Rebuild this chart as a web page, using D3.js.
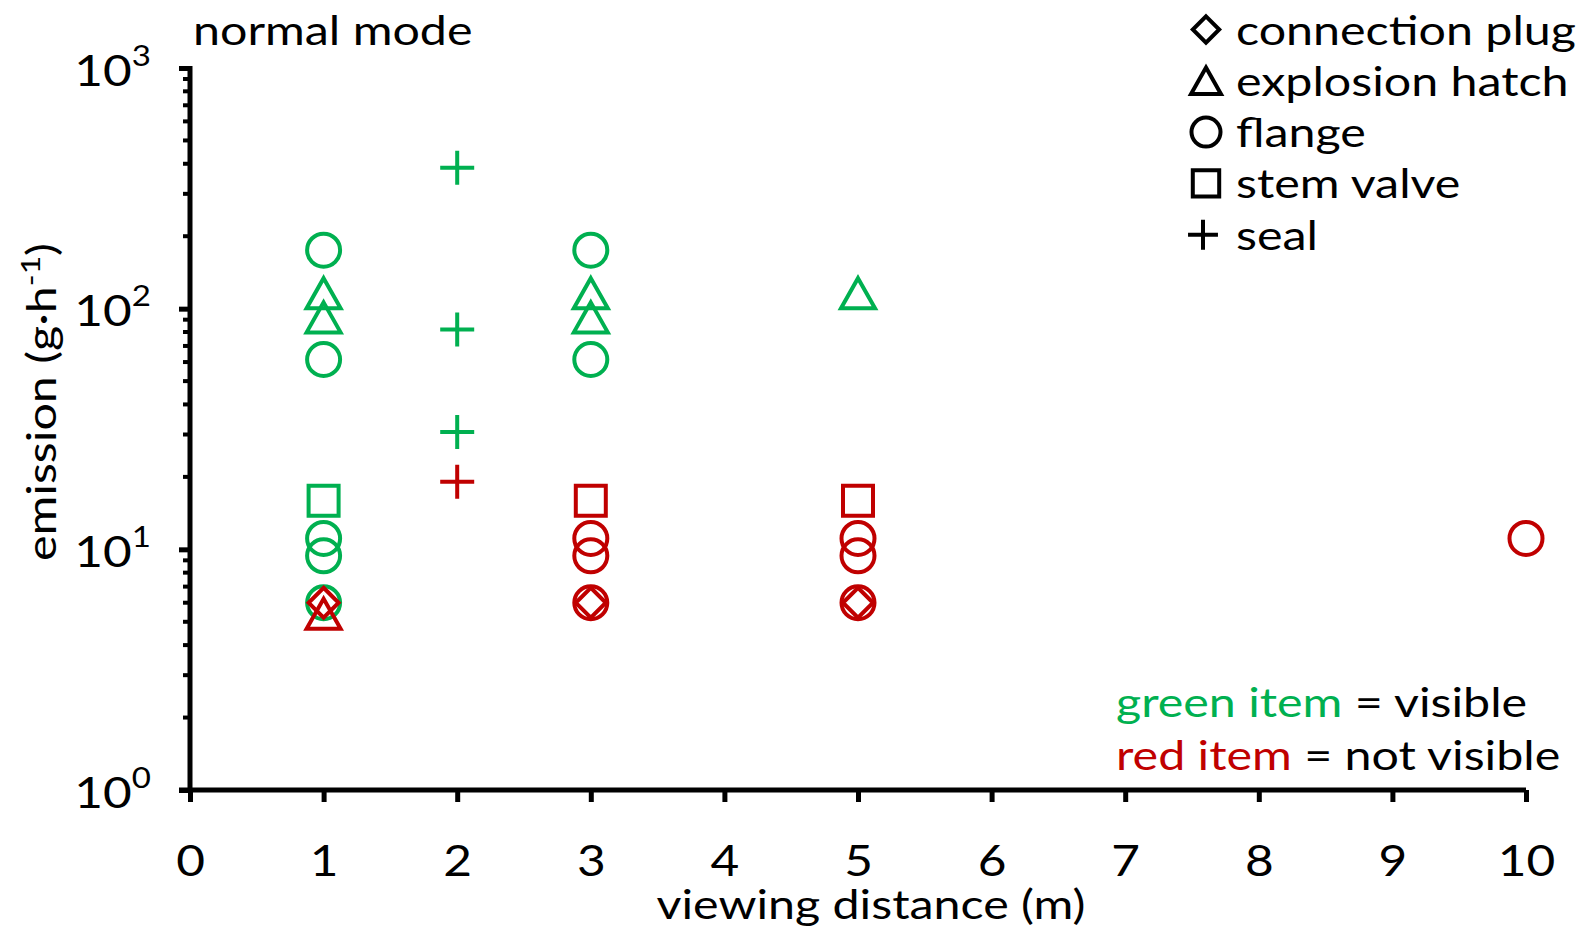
<!DOCTYPE html>
<html lang="en">
<head>
    <meta charset="UTF-8">
    <title>Emission vs viewing distance (normal mode)</title>
    <script src="https://d3js.org/d3.v7.min.js"></script>
    <style>
        body { margin: 0; background: #fff; }
        svg text { font-family: Lato, "Open Sans", sans-serif; fill: #000; }
        .axis path, .axis line { stroke: #000; }
    </style>
</head>
<body>
    <svg id="chart" width="1583" height="932"></svg>

    <script>
        // Data: [viewing distance (m), emission (g/h)]
        const legendLabels = ["connection plug", "explosion hatch", "flange", "stem valve", "seal"];
        const xTicks = [0, 1, 2, 3, 4, 5, 6, 7, 8, 9, 10];
        const yDecades = [1, 10, 100, 1000];

        const plugVisible = [];
        const plugHidden = [[1, 6.0], [3, 6.0], [5, 6.0]];
        const hatchVisible = [[1, 116], [1, 92], [3, 116], [3, 92], [5, 116]];
        const hatchHidden = [[1, 5.4]];
        const flangeVisible = [[1, 175], [1, 61.5], [1, 11.1], [1, 9.4], [1, 6.0], [3, 175], [3, 61.5]];
        const flangeHidden = [[3, 11.1], [3, 9.4], [3, 6.0], [5, 11.1], [5, 9.4], [5, 6.0], [10, 11.1]];
        const valveVisible = [[1, 15.9]];
        const valveHidden = [[3, 15.9], [5, 15.9]];
        const sealVisible = [[2, 385], [2, 82], [2, 30.7]];
        const sealHidden = [[2, 19.1]];

        const green = "#00b050", red = "#c00000";
        const SX = 1.18; // horizontal stretch of the original text

        const svg = d3.select("#chart");
        const x = d3.scaleLinear().domain([0, 10]).range([190, 1526]);
        const y = d3.scaleLog().domain([1, 1000]).range([790, 68]);

        // marker shapes centred on their bounding box
        function shape(kind, k) {
            k = k || 1;
            const p = d3.path();
            if (kind === "diamond") {
                const h = 15 * k;
                p.moveTo(0, -h); p.lineTo(h, 0); p.lineTo(0, h); p.lineTo(-h, 0); p.closePath();
            } else if (kind === "triangle") {
                const w = 17 * k, h = 15 * k;
                p.moveTo(0, -h); p.lineTo(w, h); p.lineTo(-w, h); p.closePath();
            } else if (kind === "circle") {
                p.arc(0, 0, 16.5 * k, 0, 2 * Math.PI);
            } else if (kind === "square") {
                const s = 15 * k;
                p.rect(-s, -s, 2 * s, 2 * s);
            } else {
                const a = 17 * k;
                p.moveTo(-a, 0); p.lineTo(a, 0); p.moveTo(0, -a); p.lineTo(0, a);
            }
            return p.toString();
        }

        // axes
        const xAxis = svg.append("g")
            .attr("class", "axis")
            .attr("transform", `translate(0,${y(1)})`)
            .call(d3.axisBottom(x).tickValues(xTicks).tickSize(12).tickSizeOuter(0));
        xAxis.select(".domain").attr("d", `M${x(0) - 11},0H${x(10)}`).attr("stroke-width", 5);
        xAxis.selectAll(".tick line").attr("stroke-width", 5);
        xAxis.selectAll(".tick text")
            .attr("y", 86).attr("dy", 0)
            .attr("transform", `scale(${SX},1)`)
            .style("font-size", "42px");

        const minor = [];
        [1, 10, 100].forEach(d => { for (let m = 2; m <= 9; m++) minor.push(d * m); });

        const yAxis = svg.append("g")
            .attr("class", "axis")
            .attr("transform", `translate(${x(0)},0)`)
            .call(d3.axisLeft(y).tickValues(yDecades).tickSize(11).tickSizeOuter(0).tickFormat(""));
        yAxis.select(".domain").attr("d", `M0,${y(1000) - 2}V${y(1) + 2}`).attr("stroke-width", 5);
        yAxis.selectAll(".tick line").attr("stroke-width", 5);
        yAxis.selectAll(".minor").data(minor).enter().append("line")
            .attr("class", "minor")
            .attr("x1", 0).attr("x2", -7)
            .attr("y1", d => y(d)).attr("y2", d => y(d))
            .attr("stroke", "#000").attr("stroke-width", 4);
        yAxis.selectAll(".tick text")
            .attr("x", -39 / SX).attr("y", 17).attr("dy", 0)
            .attr("transform", `scale(${SX},1)`)
            .style("font-size", "42px")
            .each(function (d) {
                const t = d3.select(this);
                t.append("tspan").text("10");
                t.append("tspan").attr("dy", -20).style("font-size", "28px").text(Math.round(Math.log10(d)));
            });

        // axis titles and captions
        function label(tx, ty, rot, anchor, size, parts) {
            const t = svg.append("text")
                .attr("transform", `translate(${tx},${ty}) rotate(${rot}) scale(${SX},1)`)
                .attr("text-anchor", anchor)
                .style("font-size", size + "px");
            parts.forEach(p => {
                const s = t.append("tspan").text(p.text);
                if (p.fill) s.style("fill", p.fill);
                if (p.sup) s.attr("dy", -16).style("font-size", "27px");
                if (p.unsup) s.attr("dy", 16);
            });
            return t;
        }
        label(193, 45, 0, "start", 41, [{ text: "normal mode" }]);
        label(871, 919, 0, "middle", 41, [{ text: "viewing distance (m)" }]);
        label(56, 402, -90, "middle", 41, [
            { text: "emission (g\u00b7h" }, { text: "-1", sup: true }, { text: ")", unsup: true }
        ]);
        label(1116, 717, 0, "start", 41, [{ text: "green item", fill: green }, { text: " = visible" }]);
        label(1116, 770, 0, "start", 41, [{ text: "red item", fill: red }, { text: " = not visible" }]);

        // data markers
        const series = [
            { data: plugVisible, kind: "diamond", color: green },
            { data: hatchVisible, kind: "triangle", color: green },
            { data: flangeVisible, kind: "circle", color: green },
            { data: valveVisible, kind: "square", color: green },
            { data: sealVisible, kind: "plus", color: green },
            { data: plugHidden, kind: "diamond", color: red },
            { data: hatchHidden, kind: "triangle", color: red },
            { data: flangeHidden, kind: "circle", color: red },
            { data: valveHidden, kind: "square", color: red },
            { data: sealHidden, kind: "plus", color: red }
        ];
        series.forEach(s => {
            svg.append("g").selectAll("path").data(s.data).enter().append("path")
                .attr("transform", d => `translate(${x(d[0])},${y(d[1])})`)
                .attr("d", shape(s.kind))
                .attr("fill", "none")
                .attr("stroke", s.color)
                .attr("stroke-width", 4)
                .attr("stroke-linejoin", "miter");
        });

        // legend
        const kinds = ["diamond", "triangle", "circle", "square", "plus"];
        const legend = svg.append("g").selectAll("g").data(legendLabels).enter().append("g")
            .attr("transform", (d, i) => `translate(0,${44.5 + 51.3 * i})`);
        legend.append("path")
            .attr("transform", (d, i) => `translate(${i === 4 ? 1203 : 1206},-15)`)
            .attr("d", (d, i) => shape(kinds[i], 0.88))
            .attr("fill", "none").attr("stroke", "#000").attr("stroke-width", 4);
        legend.append("text")
            .attr("transform", `translate(1236,0) scale(${SX},1)`)
            .style("font-size", "41px")
            .text(d => d);
    </script>
</body>
</html>
